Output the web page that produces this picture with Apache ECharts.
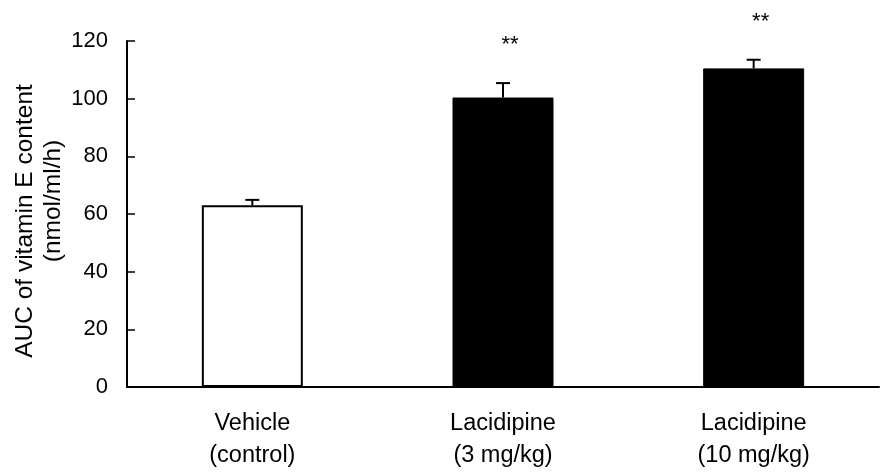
<!DOCTYPE html>
<html>
<head>
<meta charset="utf-8">
<script src="https://cdn.jsdelivr.net/npm/echarts@6/dist/echarts.min.js"></script>
<style>html,body{margin:0;padding:0;background:#fff;}#c{width:882px;height:472px;}</style>
</head>
<body>
<div id="c"></div>
<script>
const categories = ['Vehicle\n(control)', 'Lacidipine\n(3 mg/kg)', 'Lacidipine\n(10 mg/kg)'];
const means = [63, 100.4, 110.5];
const errors = [1.9, 5, 3];
const signif = ['', '**', '**'];
const yTicks = [0, 20, 40, 60, 80, 100, 120];

const FONT = '"Liberation Sans", Arial, Helvetica, sans-serif';
const chart = echarts.init(document.getElementById('c'));

const barData = means.map((v, i) => ({
  value: v,
  itemStyle: i === 0 ? { color: '#fff', borderColor: '#000', borderWidth: 2 } : { color: '#000', borderColor: '#000', borderWidth: 1 }
}));

chart.setOption({
  animation: false,
  backgroundColor: '#fff',
  grid: { left: 127, right: 3, top: 41, bottom: 83, containLabel: false },
  xAxis: {
    type: 'category',
    data: categories,
    boundaryGap: true,
    axisLine: { lineStyle: { color: '#000', width: 2 } },
    axisTick: { inside: true, length: 9, lineStyle: { color: '#000', width: 1.5 } },
    axisLabel: { color: '#000', fontFamily: FONT, fontSize: 23.5, lineHeight: 32, margin: 21, interval: 0 }
  },
  yAxis: {
    type: 'value',
    min: yTicks[0],
    max: yTicks[yTicks.length - 1],
    interval: yTicks[1] - yTicks[0],
    axisLine: { show: true, lineStyle: { color: '#000', width: 2 } },
    axisTick: { show: true, inside: true, length: 8, lineStyle: { color: '#000', width: 1.5 } },
    splitLine: { show: false },
    axisLabel: { color: '#000', fontFamily: FONT, fontSize: 22, margin: 19 }
  },
  graphic: [
    { type: 'text', x: 25, y: 221, rotation: Math.PI / 2,
      style: { text: 'AUC of vitamin E content', fill: '#000', font: '24.5px ' + FONT, align: 'center', verticalAlign: 'middle' } },
    { type: 'text', x: 53, y: 201, rotation: Math.PI / 2,
      style: { text: '(nmol/ml/h)', fill: '#000', font: '24.5px ' + FONT, align: 'center', verticalAlign: 'middle' } }
  ],
  series: [
    {
      type: 'bar',
      data: barData,
      barWidth: 101,
      z: 2
    },
    {
      type: 'custom',
      z: 3,
      data: means.map((m, i) => [i, m, errors[i]]),
      renderItem: function (params, api) {
        const i = api.value(0);
        const m = api.value(1);
        const e = api.value(2);
        const top = api.coord([i, m + e]);
        const base = api.coord([i, m]);
        const cw = 7;
        const children = [
          { type: 'line', shape: { x1: top[0], y1: base[1], x2: top[0], y2: top[1] }, style: { stroke: '#000', lineWidth: 2 } },
          { type: 'line', shape: { x1: top[0] - cw, y1: top[1], x2: top[0] + cw, y2: top[1] }, style: { stroke: '#000', lineWidth: 2 } }
        ];
        if (signif[i]) {
          children.push({ type: 'text', style: { x: top[0] + 7, y: top[1] - 38, text: signif[i], fill: '#000', font: '22px ' + FONT, align: 'center', verticalAlign: 'middle' } });
        }
        return { type: 'group', children: children };
      }
    }
  ]
});
</script>
</body>
</html>
